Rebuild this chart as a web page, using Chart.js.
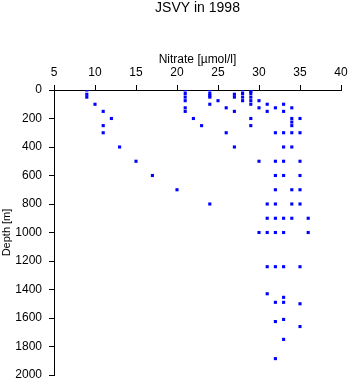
<!DOCTYPE html>
<html>
<head>
<meta charset="utf-8">
<script src="https://cdn.jsdelivr.net/npm/chart.js@4.4.0/dist/chart.umd.min.js"></script>
<style>
  html, body { margin: 0; padding: 0; background: #fff; }
  canvas { display: block; }
</style>
</head>
<body>
<canvas id="chart" width="348" height="384"></canvas>
<script>
// nitrate [µmol/l] and depth [m], read pairwise off the profile
const nitrate = [
  9, 9, 9,
  10,
  11, 11, 11,
  12, 13, 15, 17, 20,
  21, 21, 21, 21, 21, 21,
  22, 23,
  24, 24, 24, 24, 24, 24,
  25,
  26, 26,
  27, 27, 27, 27,
  28, 28, 28, 28,
  29, 29, 29, 29, 29, 29, 29, 29,
  30, 30, 30, 30,
  31, 31, 31, 31, 31, 31, 31,
  32, 32, 32, 32, 32, 32, 32, 32, 32, 32, 32, 32,
  33, 33, 33, 33, 33, 33, 33, 33, 33, 33, 33, 33, 33,
  34, 34, 34, 34, 34, 34, 34, 34, 34,
  35, 35, 35, 35, 35, 35, 35, 35, 35,
  36, 36
];
const depth = [
  0, 30, 50,
  100,
  150, 250, 300,
  200, 400, 500, 600, 700,
  0, 25, 50, 75, 125, 150,
  200, 250,
  0, 25, 40, 50, 100, 800,
  75,
  125, 300,
  30, 50, 150, 400,
  0, 25, 50, 75,
  0, 10, 25, 50, 75, 100, 200, 250,
  75, 125, 500, 1000,
  100, 150, 800, 900, 1000, 1240, 1430,
  125, 300, 500, 600, 700, 800, 900, 1000, 1240, 1490, 1625, 1885,
  100, 150, 300, 400, 500, 600, 900, 1000, 1240, 1455, 1490, 1610, 1750,
  125, 200, 225, 250, 300, 400, 700, 800, 900,
  200, 300, 500, 600, 700, 800, 1240, 1500, 1660,
  900, 1000
];
const xTicks = [5, 10, 15, 20, 25, 30, 35, 40];
const yTicks = [0, 200, 400, 600, 800, 1000, 1200, 1400, 1600, 1800, 2000];

Chart.defaults.font.family = '"Liberation Sans", Arial, sans-serif';
Chart.defaults.color = '#000';

const points = nitrate.map((v, i) => ({ x: v, y: depth[i] }));

// keep the plot box where the reference has it (no automatic label margins)
const noPad = s => {
  s.paddingTop = 0;
  s.paddingBottom = 0;
  s.paddingLeft = 0;
  s.paddingRight = 0;
};

new Chart(document.getElementById('chart'), {
  type: 'scatter',
  data: {
    datasets: [{
      data: points,
      pointStyle: 'rect',
      pointRadius: 2.2,
      pointBorderWidth: 0,
      backgroundColor: '#0000ff',
      borderColor: '#0000ff'
    }]
  },
  options: {
    responsive: false,
    animation: false,
    layout: { padding: { left: 0, right: 7, top: 0, bottom: 9 } },
    plugins: {
      legend: { display: false },
      tooltip: { enabled: false },
      title: {
        display: true,
        text: 'JSVY in 1998',
        fullSize: false,
        color: '#000',
        font: { size: 14, weight: 'normal' },
        padding: { top: 0, bottom: 10 }
      }
    },
    scales: {
      x: {
        type: 'linear',
        position: 'top',
        min: 5,
        max: 40,
        afterBuildTicks: s => { s.ticks = xTicks.map(v => ({ value: v })); },
        afterFit: s => { s.height = 63.2; noPad(s); },
        ticks: { padding: 5, font: { size: 12 }, color: '#000', callback: v => String(v) },
        grid: { drawOnChartArea: false, tickLength: 5, color: '#000', lineWidth: 1 },
        border: { color: '#000', width: 1 },
        title: {
          display: true,
          text: 'Nitrate [µmol/l]',
          color: '#000',
          font: { size: 12 },
          padding: { top: 25.5, bottom: 0 }
        }
      },
      y: {
        type: 'linear',
        reverse: true,
        min: 0,
        max: 2000,
        afterBuildTicks: s => { s.ticks = yTicks.map(v => ({ value: v })); },
        afterFit: s => { s.width = 54; noPad(s); },
        ticks: { padding: 7, font: { size: 12 }, color: '#000', callback: v => String(v) },
        grid: { drawOnChartArea: false, tickLength: 5, color: '#000', lineWidth: 1 },
        border: { color: '#000', width: 1 },
        title: {
          display: true,
          text: 'Depth [m]',
          color: '#000',
          font: { size: 11 },
          padding: 0
        }
      }
    }
  }
});
</script>
</body>
</html>
